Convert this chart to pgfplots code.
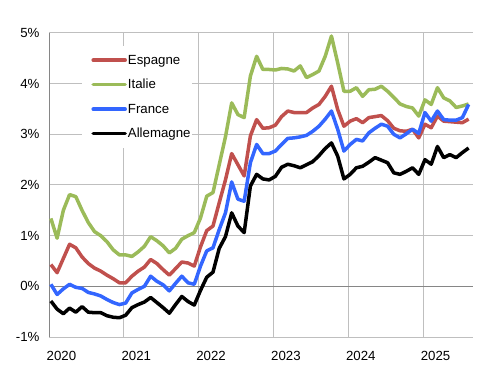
\documentclass[border=0pt]{standalone}
\usepackage{pgfplots}
\pgfplotsset{compat=1.18}
\usepackage{pgfplotstable}
\usepackage{fontspec}
\setmainfont{Liberation Sans}
\definecolor{esred}{RGB}{192,80,77}
\definecolor{itgreen}{RGB}{155,187,89}
\definecolor{frblue}{RGB}{51,102,255}
\definecolor{gridgray}{RGB}{191,191,191}
\definecolor{axgray}{RGB}{134,134,134}
\pgfplotstableread{
x es it fr de
0.3 0.43 1.34 0.04 -0.29
1.3 0.27 0.95 -0.16 -0.45
2.3 0.55 1.50 -0.05 -0.54
3.3 0.83 1.81 0.04 -0.43
4.3 0.76 1.77 -0.02 -0.51
5.3 0.58 1.50 -0.04 -0.40
6.3 0.45 1.26 -0.12 -0.51
7.3 0.36 1.08 -0.15 -0.52
8.3 0.30 1.00 -0.19 -0.52
9.3 0.22 0.88 -0.26 -0.58
10.3 0.15 0.72 -0.32 -0.61
11.3 0.07 0.62 -0.36 -0.62
12.3 0.07 0.62 -0.33 -0.57
13.3 0.20 0.59 -0.13 -0.42
14.3 0.30 0.68 -0.06 -0.36
15.3 0.38 0.79 0.00 -0.31
16.3 0.53 0.98 0.20 -0.22
17.3 0.45 0.90 0.10 -0.32
18.3 0.33 0.80 0.03 -0.42
19.3 0.22 0.66 -0.09 -0.53
20.3 0.35 0.75 0.06 -0.36
21.3 0.48 0.93 0.20 -0.20
22.3 0.46 1.00 0.07 -0.30
23.3 0.40 1.06 0.04 -0.37
24.3 0.78 1.35 0.40 -0.08
25.3 1.10 1.78 0.70 0.18
26.3 1.19 1.85 0.76 0.28
27.3 1.65 2.40 1.12 0.75
28.3 2.10 2.95 1.45 0.98
29.3 2.62 3.62 2.06 1.45
30.3 2.40 3.39 1.72 1.19
31.3 2.18 3.33 1.68 1.06
32.3 2.97 4.15 2.44 1.98
33.3 3.29 4.54 2.80 2.21
34.3 3.12 4.28 2.62 2.12
35.3 3.13 4.28 2.62 2.10
36.3 3.18 4.27 2.67 2.17
37.3 3.35 4.30 2.80 2.35
38.3 3.46 4.29 2.92 2.41
39.3 3.43 4.25 2.93 2.38
40.3 3.43 4.35 2.95 2.34
41.3 3.43 4.12 2.98 2.40
42.3 3.52 4.18 3.06 2.46
43.3 3.59 4.25 3.16 2.58
44.3 3.75 4.54 3.30 2.72
45.3 3.95 4.94 3.46 2.83
46.3 3.49 4.41 3.10 2.57
47.3 3.16 3.85 2.67 2.12
48.3 3.26 3.85 2.80 2.21
49.3 3.31 3.92 2.90 2.34
50.3 3.23 3.75 2.87 2.37
51.3 3.33 3.88 3.03 2.45
52.3 3.35 3.89 3.12 2.54
53.3 3.37 3.95 3.20 2.49
54.3 3.27 3.85 3.16 2.44
55.3 3.12 3.73 3.00 2.24
56.3 3.07 3.60 2.93 2.21
57.3 3.06 3.55 3.01 2.27
58.3 3.10 3.52 3.10 2.34
59.3 2.93 3.36 3.02 2.21
60.3 3.20 3.68 3.43 2.50
61.3 3.13 3.59 3.26 2.41
62.3 3.36 3.92 3.46 2.76
63.3 3.26 3.72 3.29 2.54
64.3 3.25 3.66 3.28 2.60
65.3 3.24 3.53 3.28 2.54
66.3 3.23 3.56 3.33 2.64
67.3 3.30 3.60 3.59 2.73
}\data
\begin{document}
\begin{tikzpicture}
\path[use as bounding box] (-49bp,-52bp) rectangle (450bp,337bp);
\begin{axis}[
  at={(0,0)}, anchor=south west,
  scale only axis, width=424bp, height=304bp,
  xmin=0, xmax=68, ymin=-1, ymax=5,
  axis line style={draw=none},
  major tick length=0pt,
  xtick={12,24,36,48,60}, xticklabels={},
  extra x ticks={2,14,26,38,50,62},
  extra x tick labels={2020,2021,2022,2023,2024,2025},
  extra x tick style={grid=none, major tick length=0pt},
  ytick={-1,0,1,2,3,4,5},
  yticklabels={-1\%,0\%,1\%,2\%,3\%,4\%,5\%},
  xmajorgrids, ymajorgrids,
  grid style={gridgray, line width=1bp},
  ticklabel style={font=\fontsize{13.3}{16}\selectfont},
  yticklabel style={xshift=-6bp},
  xticklabel style={yshift=-11bp},
  legend cell align=left,
  legend style={at={(0.0778,0.9589)}, anchor=north west, draw=none, fill=white,
    font=\fontsize{13.3}{16}\selectfont, inner xsep=0pt, inner ysep=7bp,
    row sep=9.5bp,
    nodes={inner sep=1bp, text height=10.5bp, text depth=2.5bp}},
  legend image code/.code={\path[draw=none, fill=none] (0bp,0bp) -- (44bp,0bp); \draw[#1, line cap=round] (11bp,0bp) -- (43bp,0bp);},
  every axis plot/.append style={line width=3.5bp, line join=round},
]
\draw[axgray, line width=1bp] (axis cs:0,0) -- (axis cs:68,0);
\draw[axgray, line width=1bp] (rel axis cs:0,0) -- (rel axis cs:0,1);
\addplot[esred] table[x=x, y=es] {\data};
\addlegendentry{Espagne}
\addplot[itgreen] table[x=x, y=it] {\data};
\addlegendentry{Italie}
\addplot[frblue] table[x=x, y=fr] {\data};
\addlegendentry{France}
\addplot[black] table[x=x, y=de] {\data};
\addlegendentry{Allemagne}
\end{axis}
\end{tikzpicture}
\end{document}
